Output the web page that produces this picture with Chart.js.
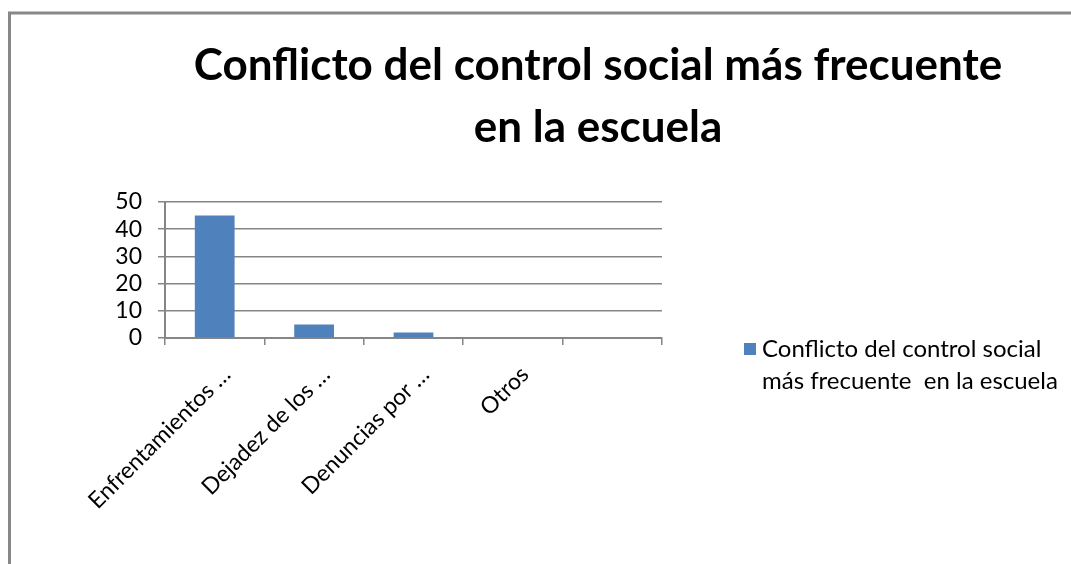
<!DOCTYPE html>
<html>
<head>
<meta charset="utf-8">
<script src="https://cdn.jsdelivr.net/npm/chart.js@4.4.0/dist/chart.umd.min.js"></script>
<style>
  html, body { margin: 0; padding: 0; background: #fff; }
  #wrap { position: relative; width: 1071px; height: 564px; }
</style>
</head>
<body>
<div id="wrap"><canvas id="chart" width="1071" height="564"></canvas></div>
<script>
const titleLines = ['Conflicto del control social más frecuente', 'en la escuela'];
const categories = ['Enfrentamientos …', 'Dejadez de los …', 'Denuncias por …', 'Otros', ''];
const seriesName = 'Conflicto del control social más frecuente  en la escuela';
const legendLines = ['Conflicto del control social', 'más frecuente  en la escuela'];
const values = [45, 5, 2, 0, null];
const yTicks = [0, 10, 20, 30, 40, 50];

const axisGray = '#868686';
const barBlue = '#4F81BD';

// frame, title and two-line legend drawn on top of the chart
const decorPlugin = {
    id: 'decor',
    afterDraw(chart) {
        const ctx = chart.ctx;
        ctx.save();
        ctx.strokeStyle = '#888888';
        ctx.lineWidth = 3;
        ctx.beginPath();
        ctx.moveTo(9.5, 564);
        ctx.lineTo(9.5, 13);
        ctx.lineTo(1071, 13);
        ctx.stroke();

        ctx.fillStyle = '#000';
        ctx.font = 'bold 44px Lato';
        ctx.textAlign = 'center';
        ctx.textBaseline = 'alphabetic';
        titleLines.forEach((t, i) => ctx.fillText(t, 598, 80 + i * 62));

        const ds = chart.data.datasets[0];
        ctx.fillStyle = ds.backgroundColor;
        ctx.fillRect(744, 343, 12, 12);
        ctx.fillStyle = '#000';
        ctx.font = '24px Lato';
        ctx.textAlign = 'left';
        legendLines.forEach((t, i) => ctx.fillText(t, 762, 357 + i * 32));
        ctx.restore();
    }
};

new Chart(document.getElementById('chart'), {
    type: 'bar',
    data: {
        labels: categories,
        datasets: [{
            label: seriesName,
            data: values,
            backgroundColor: barBlue,
            barPercentage: 0.4,
            categoryPercentage: 1.0
        }]
    },
    options: {
        responsive: false,
        animation: false,
        layout: { padding: { top: 202, right: 409, left: 0, bottom: 0 } },
        plugins: {
            legend: { display: false },
            tooltip: { enabled: false }
        },
        scales: {
            x: {
                grid: {
                    drawOnChartArea: false,
                    drawTicks: true,
                    tickLength: 7,
                    color: axisGray,
                    lineWidth: 1.5,
                    offset: true
                },
                border: { color: axisGray, width: 2 },
                ticks: {
                    color: '#000',
                    font: { family: 'Lato', size: 23 },
                    minRotation: 45,
                    maxRotation: 45,
                    autoSkip: false,
                    labelOffset: 12,
                    padding: 16
                },
                afterFit(scale) { scale.height = 226; }
            },
            y: {
                min: 0,
                max: 50,
                afterBuildTicks(scale) { scale.ticks = yTicks.map(v => ({ value: v })); },
                grid: { color: axisGray, tickLength: 7, lineWidth: 1.5 },
                border: { color: axisGray, width: 2 },
                ticks: { color: '#000', font: { family: 'Lato', size: 23 }, padding: 16, autoSkip: false },
                afterFit(scale) { scale.width = 165; }
            }
        }
    },
    plugins: [decorPlugin]
});
</script>
</body>
</html>
